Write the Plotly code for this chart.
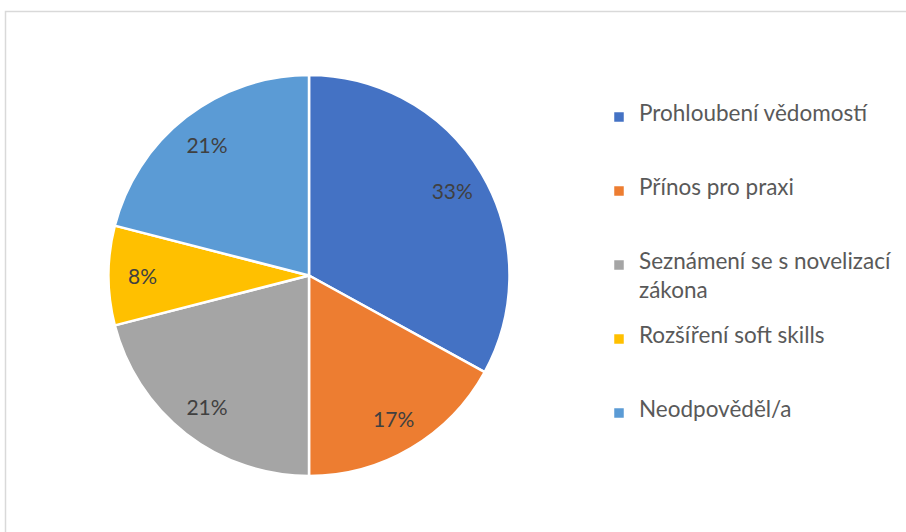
import plotly.graph_objects as go

categories = ["Prohloubení vědomostí", "Přínos pro praxi",
              "Seznámení se s novelizací zákona", "Rozšíření soft skills",
              "Neodpověděl/a"]
legend_lines = [["Prohloubení vědomostí"], ["Přínos pro praxi"],
                ["Seznámení se s novelizací", "zákona"], ["Rozšíření soft skills"],
                ["Neodpověděl/a"]]
values = [33, 17, 21, 8, 21]
colors = ["#4472C4", "#ED7D31", "#A5A5A5", "#FFC000", "#5B9BD5"]

W, H = 906, 532
N_SUB = 5                      # legend sub-lines per entry
LEG_FS = (74 - 3) / (1.3 * N_SUB)
TXT_FS = 22.5


def legend_label(lines):
    parts = []
    for i, ln in enumerate(lines):
        if i > 0:
            parts.append(" ")
        parts.append(f'<span style="font-size:{TXT_FS}px">{ln}</span>')
    while len(parts) < N_SUB:
        parts.append(" ")
    return "<br>".join(parts)


labels_leg = [legend_label(l) for l in legend_lines]

dom_x = [108 / W, 510 / W]
dom_y = [1 - 476 / H, 1 - 75 / H]

fig = go.Figure()
fig.add_trace(go.Pie(
    labels=labels_leg, values=values, sort=False, direction="clockwise", rotation=0,
    marker=dict(colors=colors, line=dict(color="white", width=2.5)),
    textinfo="none", hoverinfo="percent", domain=dict(x=dom_x, y=dom_y),
    showlegend=True,
))
fig.add_trace(go.Pie(
    labels=categories, values=values, sort=False, direction="clockwise", rotation=0,
    hole=0.66,
    marker=dict(colors=["rgba(0,0,0,0)"] * len(values), line=dict(width=0)),
    texttemplate="%{percent:.0%}", textposition="inside",
    insidetextorientation="horizontal",
    textfont=dict(family="Lato", size=21, color="#404040"),
    hoverinfo="skip", domain=dict(x=dom_x, y=dom_y), showlegend=False,
))

fig.update_layout(
    width=W, height=H,
    margin=dict(l=0, r=0, t=0, b=0),
    paper_bgcolor="white",
    font=dict(family="Lato", color="#595959"),
    legend=dict(
        x=599 / W, xanchor="left", y=1 - 103.5 / H, yanchor="top",
        font=dict(family="Lato", size=LEG_FS, color="#595959"),
        valign="top", traceorder="normal",
    ),
    shapes=[dict(type="rect", xref="paper", yref="paper",
                 x0=5.5 / W, x1=1.05, y0=-0.05, y1=1 - 11.5 / H,
                 line=dict(color="#d9d9d9", width=1.5), fillcolor="rgba(0,0,0,0)")],
)

fig.write_html("out.html", config={"displayModeBar": False},
               post_script="document.body.style.margin='0';document.body.style.overflow='hidden';")
